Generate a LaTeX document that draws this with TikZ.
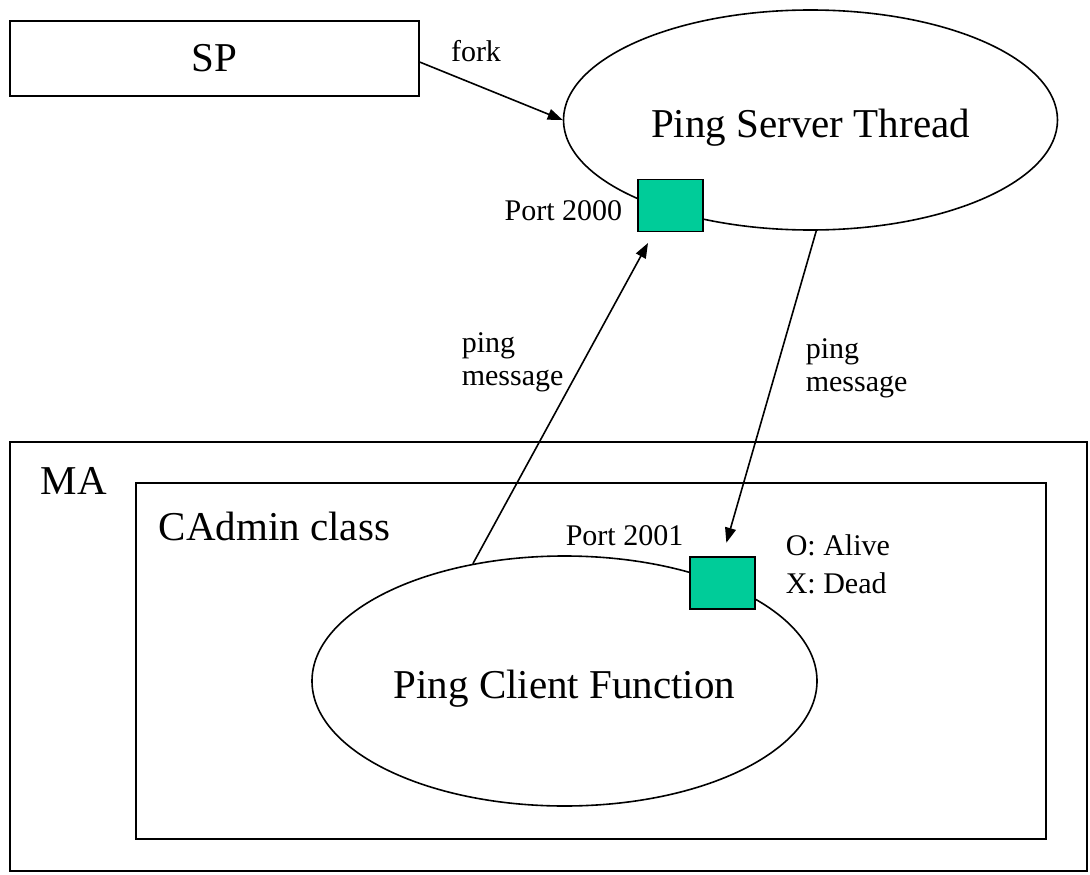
\documentclass[tikz,border=0pt]{standalone}
\usepackage{fontspec}
\setmainfont{Liberation Serif}
\usetikzlibrary{shapes.geometric,arrows.meta}
\definecolor{portgreen}{RGB}{0,204,153}

\begin{document}
\begin{tikzpicture}[x=1pt,y=-1pt,line width=1.6pt,>={Triangle[length=15pt,width=11pt]}]
        \tikzstyle{every node}=[inner sep=0pt]
        \tikzstyle{bigtext}=[font=\fontsize{41}{45}\selectfont]
        \tikzstyle{smalltext}=[font=\fontsize{30}{33}\selectfont]
        \tikzstyle{box}=[draw,rectangle]
        \tikzstyle{task}=[draw,ellipse,bigtext,text height=34pt,text depth=0pt]
        \tikzstyle{port}=[draw,rectangle,fill=portgreen,minimum width=65pt,minimum height=52pt]
        \useasboundingbox (0,0) rectangle (1090,875);
        % outer boxes
        \node[box,minimum width=1077pt,minimum height=429pt] (ma) at (548.5,656.5) {};
        \node[box,minimum width=910pt,minimum height=356pt] (cadmin) at (591,661) {};
        \node[bigtext,anchor=base west] (malbl) at (40,494) {MA};
        \node[bigtext,anchor=base west] (cadminlbl) at (158,540) {CAdmin class};
        % processes
        \node[box,bigtext,minimum width=409pt,minimum height=75pt] (sp) at (214.5,58.5) {SP};
        \node[task,minimum width=494pt,minimum height=220pt] (server) at (810.5,120) {Ping Server Thread};
        \node[task,minimum width=505pt,minimum height=250pt] (client) at (564.5,681) {Ping Client Function};
        % ports
        \node[port] (p2000) at (670.5,205.5) {};
        \node[port] (p2001) at (722.5,583) {};
        \node[smalltext,anchor=base east] (p2000lbl) at (623,220) {Port 2000};
        \node[smalltext,anchor=base west] (p2001lbl) at (565,545) {Port 2001};
        \node[smalltext,anchor=base west,align=left] (state) at (785,593) {O: Alive\\[5pt]X: Dead};
        % messages
        \coordinate (hit2000) at (648,243);
        \draw[->] (sp.-1) -- (server.west);
        \draw[->] (client.128) -- (hit2000);
        \draw[->,shorten >=14pt] (server.-87) -- (p2001.north);
        \node[smalltext,anchor=base] (forklbl) at (476,62) {fork};
        \node[smalltext,anchor=base west,align=left] (msgup) at (461,385) {ping\\message};
        \node[smalltext,anchor=base west,align=left] (msgdown) at (805,391) {ping\\message};
    \end{tikzpicture}
\end{document}
